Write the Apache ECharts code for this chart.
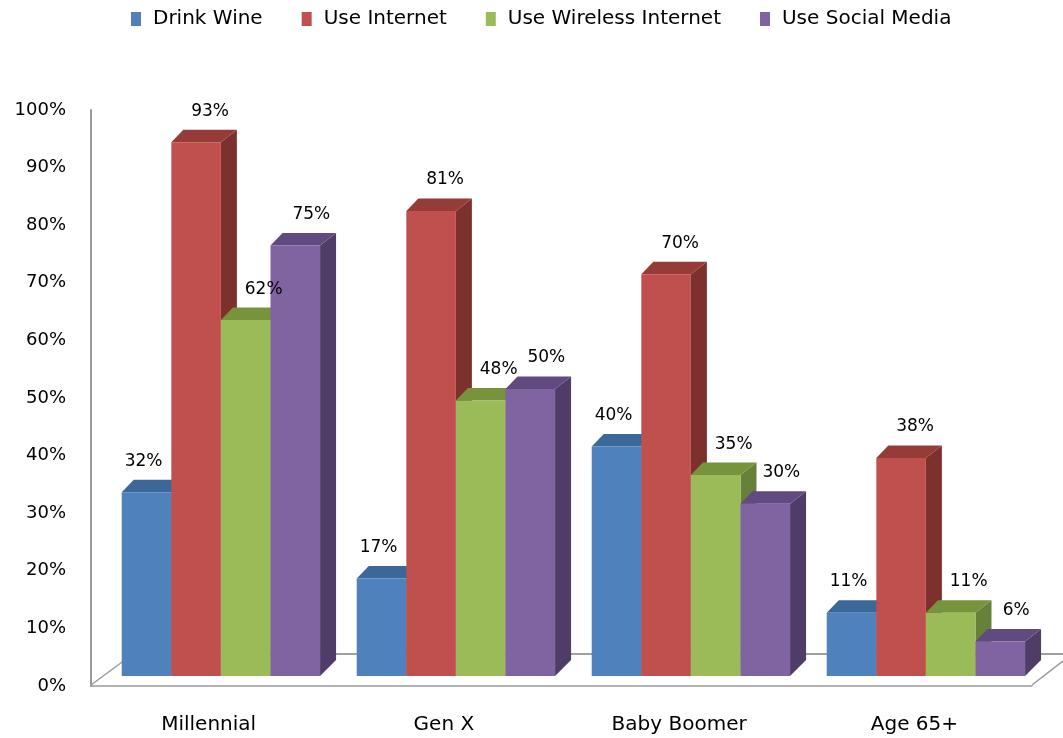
<!DOCTYPE html>
<html>
<head>
<meta charset="utf-8">
<script src="https://cdn.jsdelivr.net/npm/echarts@6/dist/echarts.min.js"></script>
<style>
  html, body { margin: 0; padding: 0; background: #fff; }
  #chart { width: 1063px; height: 738px; }
</style>
</head>
<body>
<div id="chart"></div>
<script>
// Age groups along the horizontal axis
var categories = ['Millennial', 'Gen X', 'Baby Boomer', 'Age 65+'];
// Series names, in legend order
var seriesNames = ['Drink Wine', 'Use Internet', 'Use Wireless Internet', 'Use Social Media'];
// Share of each age group (percent)
var drinkWine = [32, 17, 40, 11];
var useInternet = [93, 81, 70, 38];
var useWirelessInternet = [62, 48, 35, 11];
var useSocialMedia = [75, 50, 30, 6];
// Value axis ticks
var yMin = 0, yMax = 100, yStep = 10;

var seriesValues = [drinkWine, useInternet, useWirelessInternet, useSocialMedia];

// Face colours for the extruded columns: front, top, side
var palette = [
  { front: '#4F81BD', top: '#3B6898', side: '#385D8A' },
  { front: '#C0504D', top: '#953C39', side: '#7D312F' },
  { front: '#9BBB59', top: '#77933C', side: '#67803A' },
  { front: '#8064A2', top: '#604A80', side: '#4F3D68' }
];
// Horizontal nudge of each series' value label
var labelShift = [-3, 14, 18, 16];

var FONT = 'DejaVu Sans';
// Oblique depth of the columns (pixels)
var DXL = 12, DXR = 16, DY = -12.5, DYB = -16;

function makeRenderer(si) {
  return function (params, api) {
    var cat = api.value(0);
    var val = api.value(1);
    var base = api.coord([cat, 0]);
    var top = api.coord([cat, val]);
    var band = api.size([1, 0])[0];
    var bw = band * 0.211;
    var x0 = base[0] - bw * 2 + si * bw;
    var x1 = x0 + bw;
    var yb = base[1], yt = top[1];
    var c = palette[si];
    // later series paint over the hidden faces of earlier ones; labels sit above all
    var zb = si * 3;
    return {
      type: 'group',
      children: [
        {
          type: 'polygon', z2: zb,
          shape: { points: [[x1, yt], [x1 + DXR, yt + DY], [x1 + DXR, yb + DYB], [x1, yb]] },
          style: { fill: c.side }
        },
        {
          type: 'polygon', z2: zb + 1,
          shape: { points: [[x0, yt], [x1, yt], [x1 + DXR, yt + DY], [x0 + DXL, yt + DY]] },
          style: { fill: c.top }
        },
        {
          type: 'rect', z2: zb + 2,
          shape: { x: x0, y: yt, width: bw, height: yb - yt },
          style: { fill: c.front }
        },
        {
          type: 'text', z2: 100,
          style: {
            text: val + '%',
            x: (x0 + x1) / 2 + labelShift[si],
            y: yt - 31,
            align: 'center',
            verticalAlign: 'middle',
            fill: '#000',
            font: '17px "' + FONT + '"'
          }
        }
      ]
    };
  };
}

var series = seriesNames.map(function (name, si) {
  return {
    type: 'custom',
    name: name,
    xAxisIndex: 1,
    yAxisIndex: 1,
    itemStyle: { color: palette[si].front },
    encode: { x: 0, y: 1 },
    data: seriesValues[si].map(function (v, i) { return [i, v]; }),
    renderItem: makeRenderer(si),
    z: 2
  };
});

var chart = echarts.init(document.getElementById('chart'), null, { renderer: 'canvas' });

var frameColor = '#9a9a9a';

chart.setOption({
  backgroundColor: '#fff',
  animation: false,
  legend: {
    left: 126,
    top: 4,
    itemWidth: 10,
    itemHeight: 14,
    itemGap: 39,
    icon: 'rect',
    data: seriesNames,
    textStyle: { fontFamily: FONT, fontSize: 20, color: '#000', padding: [0, 0, 0, 7] }
  },
  grid: [
    // Axis frame: labels, left wall edge, front floor edge
    { left: 91, right: 31, top: 110, bottom: 52 },
    // Column plane
    { left: 103.4, right: 19.6, top: 102, bottom: 62 }
  ],
  xAxis: [
    {
      type: 'category', gridIndex: 0, data: categories,
      axisLine: { lineStyle: { color: frameColor, width: 1.5 } },
      axisTick: { show: false },
      axisLabel: { fontFamily: FONT, fontSize: 20, color: '#000', margin: 29 }
    },
    {
      type: 'category', gridIndex: 1, data: categories,
      axisLine: { show: false }, axisTick: { show: false }, axisLabel: { show: false }
    }
  ],
  yAxis: [
    {
      type: 'value', gridIndex: 0, min: yMin, max: yMax, interval: yStep,
      axisLine: { show: true, lineStyle: { color: frameColor, width: 2 } },
      axisTick: { show: false },
      splitLine: { show: false },
      axisLabel: { fontFamily: FONT, fontSize: 18, color: '#000', margin: 25, formatter: '{value}%' }
    },
    {
      type: 'value', gridIndex: 1, min: yMin, max: yMax, interval: yStep,
      axisLine: { show: false }, axisTick: { show: false },
      splitLine: { show: false }, axisLabel: { show: false }
    }
  ],
  // Back floor edge and the two receding floor edges
  graphic: [
    { type: 'line', shape: { x1: 133, y1: 654, x2: 1063, y2: 654 }, style: { stroke: '#a0a0a0', lineWidth: 2 }, z: 0 },
    { type: 'line', shape: { x1: 91, y1: 685, x2: 133, y2: 654 }, style: { stroke: frameColor, lineWidth: 1.5 }, z: 0 },
    { type: 'line', shape: { x1: 1032, y1: 685, x2: 1072, y2: 654 }, style: { stroke: frameColor, lineWidth: 1.5 }, z: 0 }
  ],
  series: series
});
</script>
</body>
</html>
